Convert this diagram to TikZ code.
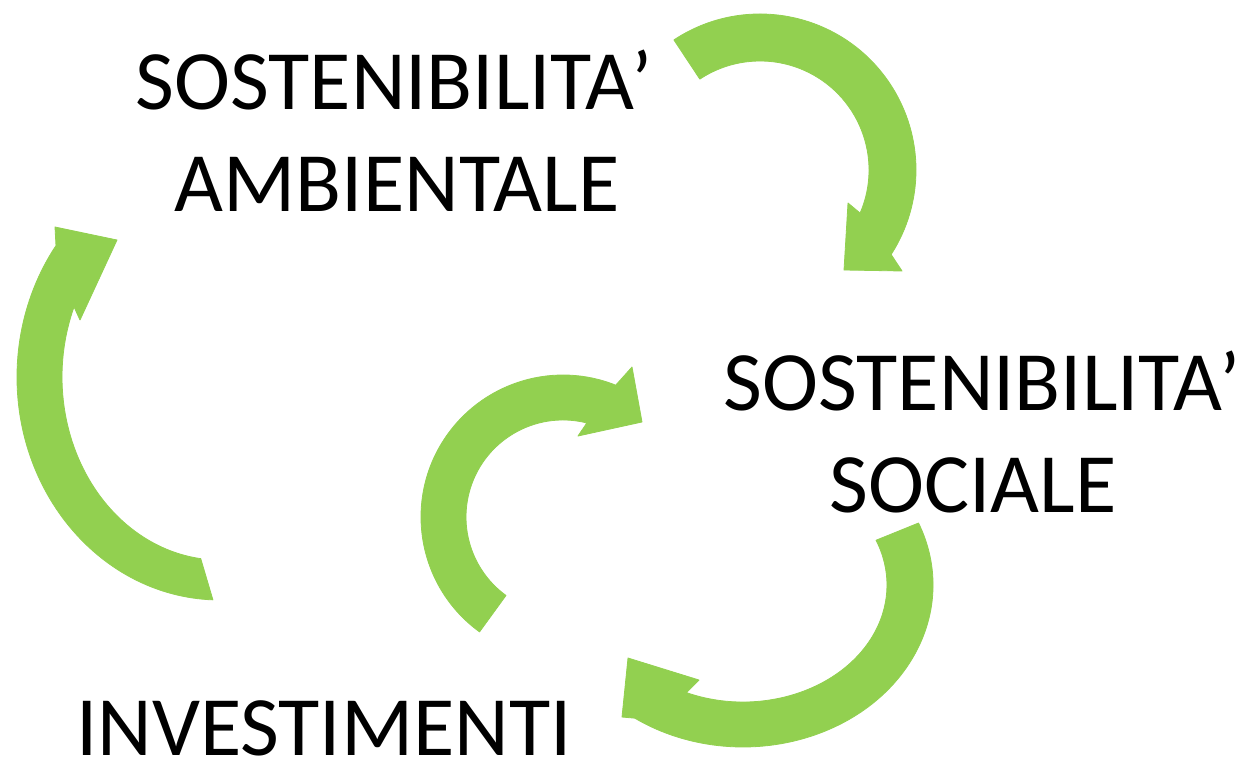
\documentclass[tikz,border=0pt]{standalone}
\usepackage{fontspec}
\setmainfont{Carlito}
\definecolor{arrowgreen}{RGB}{146,208,80}
\begin{document}
\begin{tikzpicture}[x=1pt,y=-1pt,
  arrowshape/.style={fill=arrowgreen, draw=arrowgreen, line width=0.8pt, line join=round},
  labeltext/.style={font=\fontsize{84.5}{100}\selectfont, inner sep=0pt, anchor=base, text=black}]
\useasboundingbox (0,0) rectangle (1246,759);
% arrow: top right (ambientale -> sociale)
\begin{scope}[shift={(760,170)}]
\path[arrowshape] (-123.5:156) arc[start angle=-123.5, end angle=32.8, radius=156]
  -- (142,101) -- (84,100) -- (88,33) -- (23.3:109)
  arc[start angle=23.3, end angle=-123.5, radius=109] -- cycle;
\end{scope}
% arrow: left (investimenti -> ambientale)
\begin{scope}[shift={(220,377)}]
\path[arrowshape] (92:203 and 223) arc[start angle=92, end angle=216.1, x radius=203, y radius=223]
  -- (-165,-150) -- (-103,-137) -- (-140,-57) -- (202.5:158 and 183)
  arc[start angle=202.5, end angle=97, x radius=158, y radius=183] -- cycle;
\end{scope}
% arrow: middle (investimenti -> sociale)
\begin{scope}[shift={(563,517)}]
\path[arrowshape] (126:142) arc[start angle=126, end angle=291.8, radius=142]
  -- (69,-150) -- (79,-95) -- (15,-81) -- (284.2:97)
  arc[start angle=284.2, end angle=126, radius=97] -- cycle;
\end{scope}
% arrow: bottom right (sociale -> investimenti)
\begin{scope}[shift={(743,585)}]
\path[arrowshape] (-22.5:190 and 162) arc[start angle=-22.5, end angle=124.7, x radius=190, y radius=162]
  -- (-121,132) -- (-115,73) -- (-44,95) -- (113.1:144 and 117)
  arc[start angle=113.1, end angle=-22.5, x radius=144, y radius=117] -- cycle;
\end{scope}
% labels
\node[labeltext] (amb1) at (394,110) {SOSTENIBILITA’};
\node[labeltext] (amb2) at (397,212) {AMBIENTALE};
\node[labeltext] (soc1) at (982,410) {SOSTENIBILITA’};
\node[labeltext] (soc2) at (973,512) {SOCIALE};
\node[labeltext] (inv) at (324,755) {INVESTIMENTI};
\end{tikzpicture}
\end{document}
